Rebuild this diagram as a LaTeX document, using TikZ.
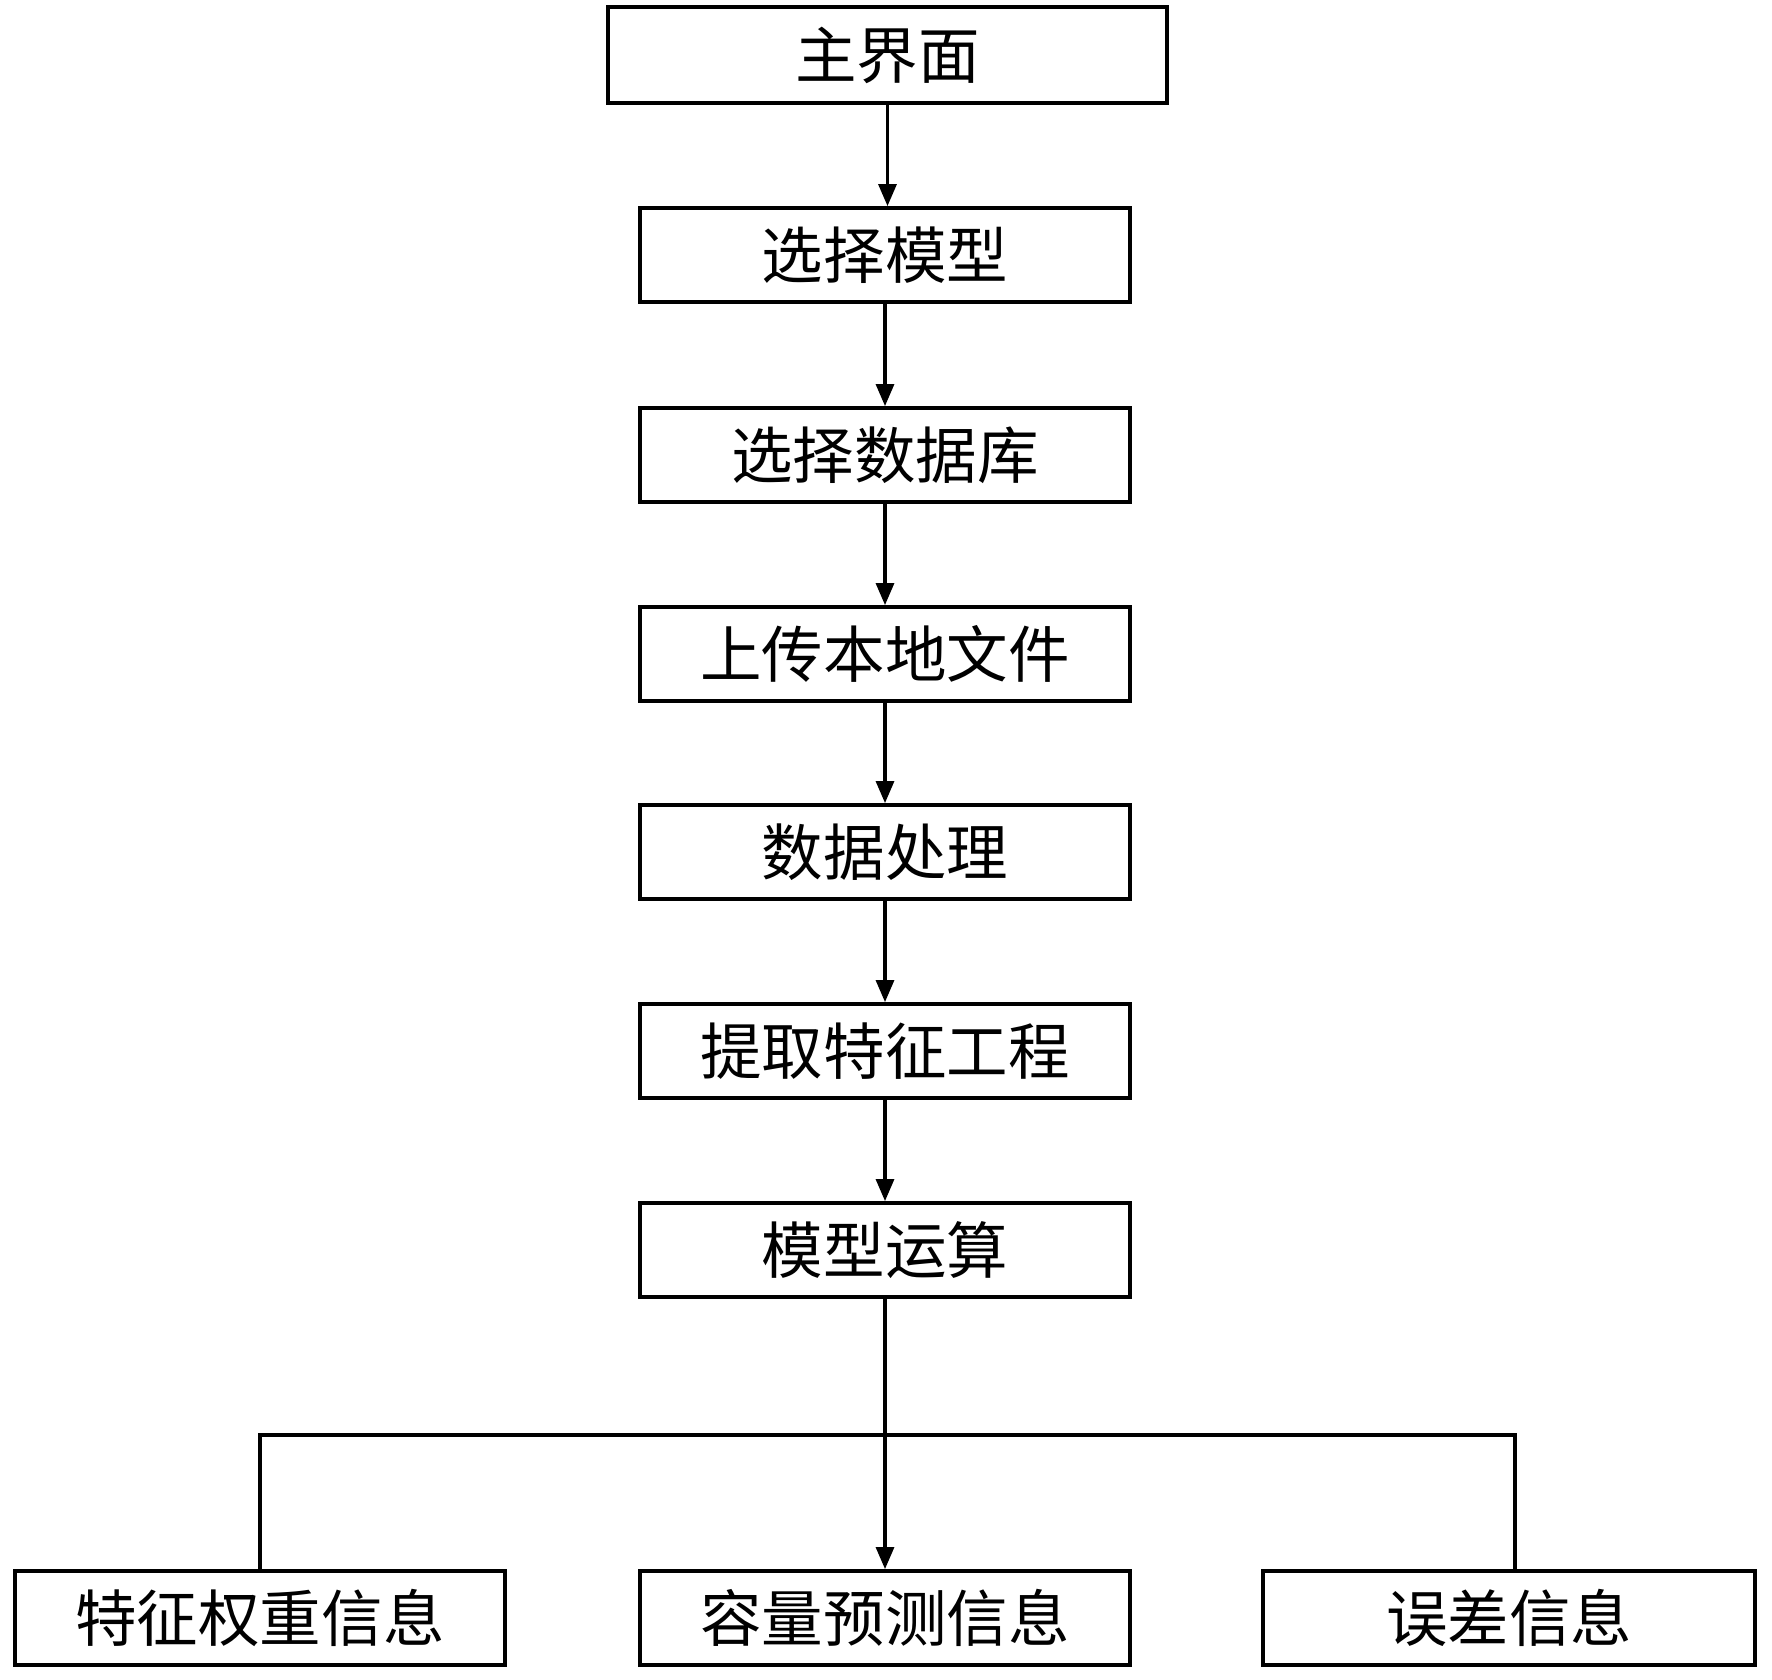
\documentclass[tikz,border=0pt]{standalone}
\usepackage{fontspec}
\setmainfont{Noto Sans CJK SC}
\usetikzlibrary{arrows.meta}
\begin{document}
\begin{tikzpicture}[every node/.style={draw,line width=1.1pt,minimum width=4.9cm,minimum height=0.94cm,inner sep=0pt,font=\fontsize{17.5}{20}\selectfont},
  >={Triangle[length=2.2mm,width=1.8mm]}, line width=0.9pt]
\useasboundingbox (0,0) rectangle (17.72,-16.79);
\node[minimum width=5.59cm,minimum height=0.96cm] (s0) at (8.875,-0.55) {主界面};
\node (s1) at (8.85,-2.55) {选择模型};
\node (s2) at (8.85,-4.55) {选择数据库};
\node (s3) at (8.85,-6.54) {上传本地文件};
\node (s4) at (8.85,-8.52) {数据处理};
\node (s5) at (8.85,-10.51) {提取特征工程};
\node (s6) at (8.85,-12.50) {模型运算};
\node (s7) at (2.60,-16.18) {特征权重信息};
\node (s8) at (8.85,-16.18) {容量预测信息};
\node[minimum width=4.92cm] (s9) at (15.09,-16.18) {误差信息};
\coordinate (j) at (8.85,-14.35);
\coordinate (r) at (15.15,-14.35);
\draw[->] (s0) -- (s0 |- s1.north);
\draw[->] (s1) -- (s2);
\draw[->] (s2) -- (s3);
\draw[->] (s3) -- (s4);
\draw[->] (s4) -- (s5);
\draw[->] (s5) -- (s6);
\draw[->] (s6) -- (s8);
\draw (j) -| (s7);
\draw (j) -- (r) -- (r |- s9.north);
\end{tikzpicture}
\end{document}
